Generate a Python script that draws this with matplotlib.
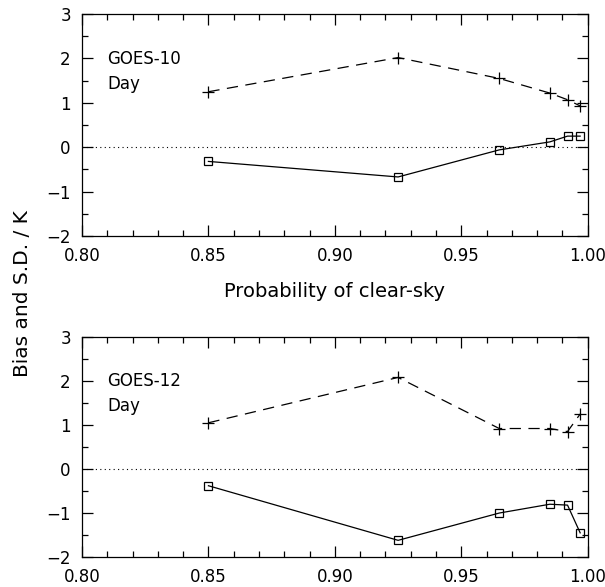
import matplotlib
matplotlib.use("Agg")
import matplotlib.pyplot as plt
from matplotlib.ticker import MultipleLocator, FormatStrFormatter

# probability of clear-sky thresholds
prob = [0.85, 0.925, 0.965, 0.985, 0.992, 0.997]

# GOES-10, day
sd_10 = [1.25, 2.02, 1.55, 1.22, 1.07, 0.93]
bias_10 = [-0.32, -0.67, -0.06, 0.12, 0.25, 0.25]

# GOES-12, day
sd_12 = [1.05, 2.08, 0.92, 0.92, 0.85, 1.25]
bias_12 = [-0.38, -1.62, -1.00, -0.80, -0.82, -1.45]

panels = [("GOES-10", sd_10, bias_10), ("GOES-12", sd_12, bias_12)]

plt.rcParams['font.family'] = ['DejaVu Sans']
fig = plt.figure(figsize=(6.05, 5.87), dpi=100)
axes = [fig.add_axes([0.1355, 0.598, 0.836, 0.378]),
        fig.add_axes([0.1355, 0.051, 0.836, 0.375])]

for ax, (name, sd, bias) in zip(axes, panels):
    ax.plot(prob, sd, color='black', lw=0.9, ls=(0, (9, 6)),
            marker='+', ms=9, mew=0.9)
    ax.plot(prob, bias, color='black', lw=0.9, ls='-',
            marker='s', ms=6, mfc='none', mew=0.9)
    ax.plot([0.80, 1.00], [0, 0], color='black', lw=0.8, ls=(0, (1, 3)))
    ax.set_xlim(0.80, 1.00)
    ax.set_ylim(-2, 3)
    ax.xaxis.set_major_locator(MultipleLocator(0.05))
    ax.xaxis.set_minor_locator(MultipleLocator(0.01))
    ax.yaxis.set_major_locator(MultipleLocator(1))
    ax.yaxis.set_minor_locator(MultipleLocator(0.5))
    ax.xaxis.set_major_formatter(FormatStrFormatter('%.2f'))
    ax.tick_params(which='both', direction='in', top=True, right=True,
                   labelsize=12, pad=8, width=0.9)
    ax.tick_params(which='major', length=8)
    ax.tick_params(which='minor', length=4)
    for s in ax.spines.values():
        s.set_linewidth(0.9)
    ax.text(0.05, 0.84, name + "\nDay", transform=ax.transAxes,
            fontsize=12, va='top', ha='left', linespacing=1.5)

axes[0].set_xlabel("Probability of clear-sky", fontsize=14, labelpad=12)
fig.text(0.038, 0.5, "Bias and S.D. / K", rotation=90, fontsize=14.5,
         ha='center', va='center')

fig.savefig("out.png", dpi=100)
